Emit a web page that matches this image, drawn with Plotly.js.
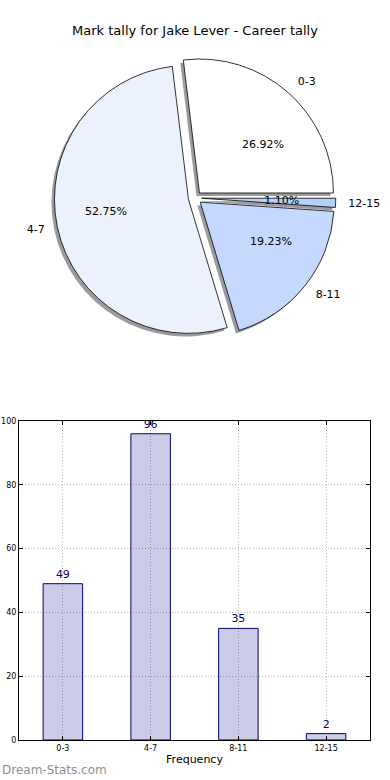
<!DOCTYPE html>
<html>
<head>
<meta charset="utf-8">
<script src="https://cdn.plot.ly/plotly-3.0.1.min.js"></script>
<style>html,body{margin:0;padding:0;background:#fff;}#chart{width:390px;height:780px;}</style>
</head>
<body>
<div id="chart"></div>
<script>
const categories = ['0-3', '4-7', '8-11', '12-15'];
const tally = [49, 96, 35, 2];
const sliceColors = ['#ffffff', '#ebf2fe', '#c5d9fe', '#b3d1fa'];
const titleText = 'Mark tally for Jake Lever - Career tally';

const W = 390, H = 780;
function dom(cx, cy, half) {
  return {x: [(cx - half) / W, (cx + half) / W], y: [(H - cy - half) / H, (H - cy + half) / H]};
}
const total = tally.reduce((a, b) => a + b, 0);
// first slice starts at 3 o'clock and runs counterclockwise (matplotlib style)
const rot = 90 - 360 * tally[0] / total;
const pull = 0.05;
const R = 134;
const CX = 195, CY = 198;
const font = 'DejaVu Sans, sans-serif';

const common = {
  type: 'pie', values: tally, labels: categories, sort: false,
  direction: 'counterclockwise', rotation: rot, pull: pull,
  hoverinfo: 'skip', showlegend: false
};

const shadow = Object.assign({}, common, {
  domain: dom(CX - 3, CY + 3, R * (1 + pull)),
  marker: {colors: categories.map(() => 'rgba(90,90,90,0.6)'), line: {width: 0}},
  textinfo: 'none'
});
const main = Object.assign({}, common, {
  domain: dom(CX, CY, R * (1 + pull)),
  marker: {colors: sliceColors, line: {color: '#000', width: 0.8}},
  textinfo: 'none'
});
const pct = Object.assign({}, common, {
  domain: dom(CX, CY, 63 * (1 + pull)),
  marker: {colors: categories.map(() => 'rgba(0,0,0,0)'), line: {width: 0}},
  texttemplate: '%{percent:.2%}', textposition: 'outside',
  outsidetextfont: {family: font, size: 11, color: '#000'}
});
const lbl = Object.assign({}, common, {
  domain: dom(CX, CY, 143 * (1 + pull)),
  marker: {colors: categories.map(() => 'rgba(0,0,0,0)'), line: {width: 0}},
  texttemplate: '%{label}', textposition: 'outside',
  outsidetextfont: {family: font, size: 11, color: '#000'}
});

const bars = {
  type: 'bar', x: categories, y: tally, width: 0.45,
  marker: {color: 'rgba(0,0,128,0.2)', line: {color: '#000080', width: 1}},
  texttemplate: '%{y}', textposition: 'outside', cliponaxis: false,
  textfont: {family: font, size: 11, color: '#000080'},
  hoverinfo: 'skip', showlegend: false, xaxis: 'x', yaxis: 'y'
};

const layout = {
  width: W, height: H,
  margin: {l: 0, r: 0, t: 0, b: 0},
  paper_bgcolor: '#fff', plot_bgcolor: '#fff',
  font: {family: font, color: '#000'},
  title: {text: titleText, x: 0.5, xanchor: 'center', y: 1 - 30 / H, yanchor: 'middle',
          font: {family: font, size: 13, color: '#000'}},
  xaxis: {
    domain: [19 / W, 370 / W], range: [-0.5, 3.5], type: 'category',
    showline: true, linecolor: '#000', linewidth: 1, mirror: 'ticks',
    ticks: 'inside', ticklen: 4, tickcolor: '#000',
    showgrid: true, gridcolor: '#b8b8b8', griddash: '1px,2px', gridwidth: 1,
    tickfont: {family: font, size: 8, color: '#000'},
    title: {text: 'Frequency', font: {family: font, size: 11, color: '#000'}, standoff: 3},
    zeroline: false, fixedrange: true
  },
  yaxis: {
    domain: [40 / H, 359 / H], range: [0, 100],
    tickvals: [0, 20, 40, 60, 80, 100],
    showline: true, linecolor: '#000', linewidth: 1, mirror: 'ticks',
    ticks: 'inside', ticklen: 4, tickcolor: '#000',
    showgrid: true, gridcolor: '#b8b8b8', griddash: '1px,2px', gridwidth: 1,
    tickfont: {family: font, size: 8, color: '#000'},
    zeroline: false, fixedrange: true
  },
  annotations: [{
    text: 'Dream-Stats.com', xref: 'paper', yref: 'paper', x: 0, y: 10 / H,
    xanchor: 'left', yanchor: 'middle', showarrow: false,
    font: {family: font, size: 12, color: '#8f8f8f'}
  }]
};

Plotly.newPlot('chart', [shadow, main, pct, lbl, bars], layout, {staticPlot: true, displayModeBar: false});
</script>
</body>
</html>
